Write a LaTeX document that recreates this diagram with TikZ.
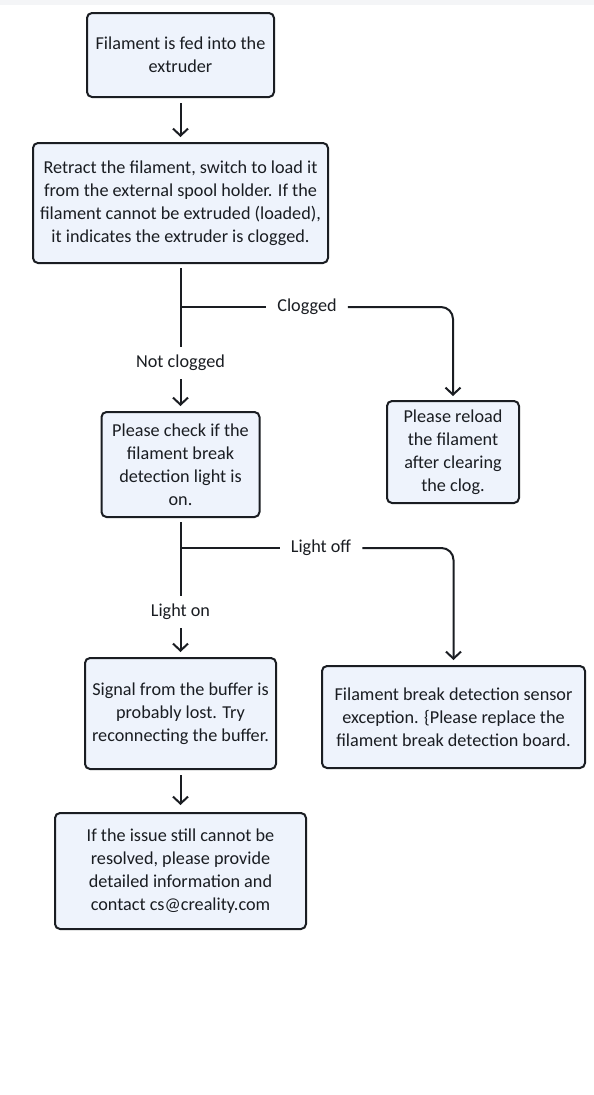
\documentclass[tikz,border=0pt]{standalone}
\usepackage{fontspec}
\setmainfont{Carlito}
\usetikzlibrary{arrows.meta,positioning}

\definecolor{boxfill}{HTML}{EEF3FC}
\definecolor{ink}{HTML}{1A1D22}
\definecolor{topband}{HTML}{F4F5F7}

\begin{document}
\begin{tikzpicture}[x=1pt,y=-1pt,
    stepbox/.style={draw=ink,line width=2pt,fill=boxfill,rounded corners=5pt,
        align=center,text=ink,inner sep=0pt,
        font=\fontsize{18.2}{23}\selectfont},
    flow/.style={draw=ink,line width=2pt},
    tip/.style={-{Straight Barb[length=7pt,width=15pt]}},
    tag/.style={fill=white,text=ink,inner xsep=11pt,inner ysep=8pt,
        font=\fontsize{18.2}{19}\selectfont}]

    % page and top band
    \useasboundingbox (0,0) rectangle (594,1095);
    \fill[topband] (0,0) rectangle (594,5);

    % main column
    \node[stepbox,minimum width=187pt,minimum height=84pt] (feed) at (180.5,55)
        {Filament is fed into the\\extruder};
    \node[stepbox,minimum width=295pt,minimum height=120pt] (retract) at (180.5,203)
        {Retract the filament, switch to load it\\from the external spool holder. If the\\
         filament cannot be extruded (loaded),\\it indicates the extruder is clogged.};
    \node[stepbox,minimum width=158pt,minimum height=105pt] (check) at (180.5,464.5)
        {Please check if the\\filament break\\detection light is\\on.};
    \node[stepbox,minimum width=191pt,minimum height=111pt] (signal) at (180.5,713.5)
        {Signal from the buffer is\\probably lost. Try\\reconnecting the buffer.};
    \node[stepbox,minimum width=251pt,minimum height=116pt] (contact) at (180.5,871)
        {If the issue still cannot be\\resolved, please provide\\detailed information and\\
         contact cs@creality.com};

    % right column
    \node[stepbox,minimum width=132pt,minimum height=102pt] (reload) at (453,452)
        {Please reload\\the filament\\after clearing\\the clog.};
    \node[stepbox,minimum width=263pt,minimum height=102pt] (sensor) at (453.5,717)
        {Filament break detection sensor\\exception. {\{}Please replace the\\
         filament break detection board.};

    % branch labels
    \node[tag] (clogtag) at (307,307) {Clogged};
    \node[tag] (oktag) at (180.5,363) {Not clogged};
    \node[tag] (offtag) at (321,548) {Light off};
    \node[tag] (ontag) at (180.5,612) {Light on};
    \coordinate (clogsplit) at (retract.south |- clogtag);
    \coordinate (offsplit) at (check.south |- offtag);

    % connectors
    \draw[flow,tip,shorten <=5pt,shorten >=5pt] (feed) -- (retract);
    \draw[flow,shorten <=4pt] (retract) -- (oktag);
    \draw[flow,tip,shorten >=5pt] (oktag) -- (check);
    \draw[flow] (clogsplit) -- (clogtag);
    \draw[flow,tip,rounded corners=12pt,shorten >=4pt] (clogtag) -| (reload);

    \draw[flow,shorten <=4pt] (check) -- (ontag);
    \draw[flow,tip,shorten >=5pt] (ontag) -- (signal);
    \draw[flow] (offsplit) -- (offtag);
    \draw[flow,tip,rounded corners=12pt,shorten >=5pt] (offtag) -| (sensor);

    \draw[flow,tip,shorten <=5pt,shorten >=7pt] (signal) -- (contact);
\end{tikzpicture}
\end{document}
